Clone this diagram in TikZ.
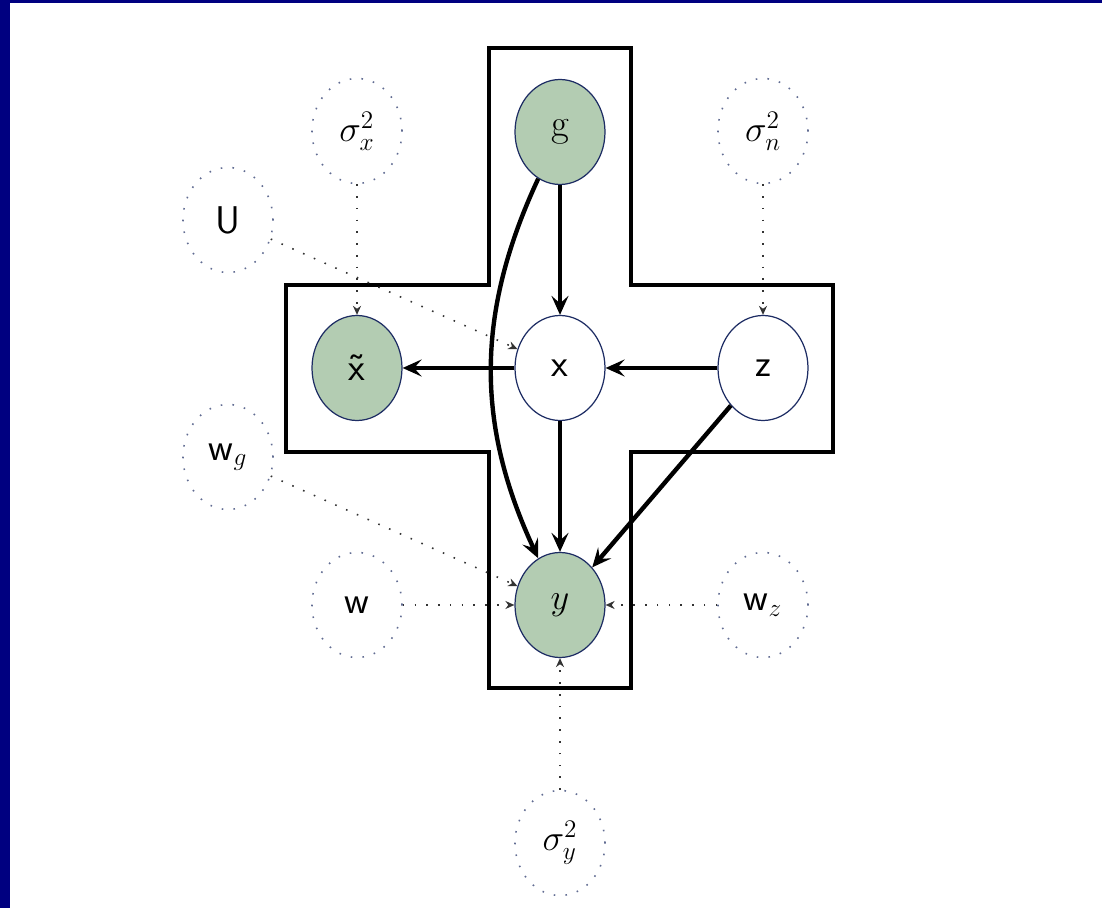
\documentclass[tikz,border=0pt]{standalone}
\usepackage{tikz}
\usetikzlibrary{arrows.meta,shapes.geometric,backgrounds}
\definecolor{obsgreen}{RGB}{179,204,178}
\definecolor{nodeline}{RGB}{30,45,100}
\definecolor{framenavy}{RGB}{0,0,128}
\tikzset{>={Stealth[length=3.8mm,width=3.4mm,inset=1.5mm]}}

\begin{document}
\begin{tikzpicture}[font=\fontsize{22}{26}\selectfont]
      \tikzstyle{vnode} = [ellipse, draw=nodeline, line width=0.7pt, minimum width=1.8cm, minimum height=2.1cm, inner sep=0pt, fill=white]
      \tikzstyle{onode} = [vnode, fill=obsgreen]
      \tikzstyle{pnode} = [ellipse, draw=nodeline!70, line width=0.9pt, dash pattern=on 0.9pt off 5.8pt, minimum width=1.8cm, minimum height=2.1cm, inner sep=0pt]
      \tikzstyle{dep} = [->, line width=2.5pt, black]
      \tikzstyle{hyp} = [-{Stealth[length=1.8mm,width=1.6mm]}, line width=0.9pt, black!80, dash pattern=on 0.9pt off 5.8pt]

      \useasboundingbox (0,0) rectangle (22.04,-18.16);
      \fill[framenavy] (0,0) rectangle (22.04,-0.06);
      \fill[framenavy] (0,0) rectangle (0.2,-18.16);

      % cross shaped plate
      \draw[line width=1.9pt] (9.78,-0.96) -- (12.62,-0.96) -- (12.62,-5.7) -- (16.66,-5.7)
        -- (16.66,-9.04) -- (12.62,-9.04) -- (12.62,-13.76) -- (9.78,-13.76)
        -- (9.78,-9.04) -- (5.72,-9.04) -- (5.72,-5.7) -- (9.78,-5.7) -- cycle;

      \node[onode] (g) at (11.2,-2.64) {g};
      \node[onode] (xt) at (7.14,-7.36) {\textsf{\~{x}}};
      \node[vnode] (x) at (11.2,-7.36) {\textsf{x}};
      \node[vnode] (z) at (15.26,-7.36) {\textsf{z}};
      \node[onode] (y) at (11.2,-12.1) {$y$};

      \node[pnode] (sx) at (7.14,-2.62) {$\sigma_x^2$};
      \node[pnode] (U) at (4.56,-4.4) {\textsf{U}};
      \node[pnode] (sn) at (15.26,-2.62) {$\sigma_n^2$};
      \node[pnode] (wg) at (4.56,-9.14) {\textsf{w}$_g$};
      \node[pnode] (w) at (7.14,-12.1) {\textsf{w}};
      \node[pnode] (wz) at (15.26,-12.1) {\textsf{w}$_z$};
      \node[pnode] (sy) at (11.2,-16.86) {$\sigma_y^2$};

      \draw[dep] (g) to (x);
      \draw[dep] (x) to (xt);
      \draw[dep] (z) to (x);
      \draw[dep] (x) to (y);
      \draw[dep] (z) to (y);
      \draw[dep] (g) to[bend right=25] (y);

      \draw[hyp] (sx) to (xt);
      \draw[hyp] (U) to (x);
      \draw[hyp] (sn) to (z);
      \draw[hyp] (wg) to (y);
      \draw[hyp] (w) to (y);
      \draw[hyp] (wz) to (y);
      \draw[hyp] (sy) to (y);
\end{tikzpicture}
\end{document}
